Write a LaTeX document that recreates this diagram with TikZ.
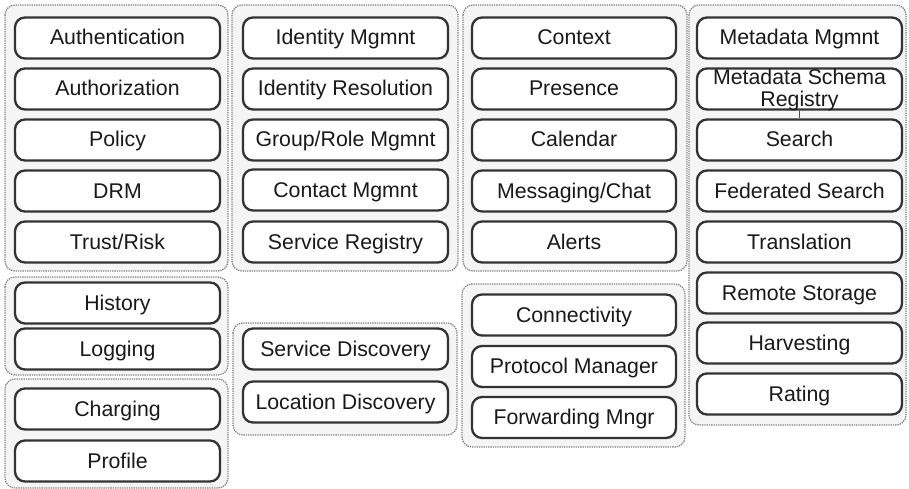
\documentclass[tikz,border=0pt]{standalone}
\usepackage{fontspec}
\setmainfont{Liberation Sans}
\begin{document}
\begin{tikzpicture}[x=1pt,y=-1pt,
  group/.style={draw=black!50, densely dotted, line width=1.3pt, fill=black!4, rounded corners=10pt},
  svc/.style={draw=black!80, line width=2.3pt, fill=white, rounded corners=10pt,
    minimum width=205pt, minimum height=41pt, inner sep=0pt,
    text height=16pt, text depth=2pt,
    text=black!90, font=\fontsize{21.3}{22}\selectfont},
  lbl/.style={text=black!90, font=\fontsize{21.3}{22}\selectfont, align=center, inner sep=0pt},
  tick/.style={draw=black!70, line width=1pt}]
\useasboundingbox (0,0) rectangle (909,489);

% groups
\draw[group] (5,5) rectangle (228,271);
\draw[group] (232,5) rectangle (458,271);
\draw[group] (463,5) rectangle (687,271);
\draw[group] (689,5) rectangle (906,425);
\draw[group] (5,277) rectangle (228,375);
\draw[group] (5,379) rectangle (228,488);
\draw[group] (233,323) rectangle (457,435);
\draw[group] (462,284) rectangle (685,447);

% column 1
\node[svc] (authn) at (117.5,38) {Authentication};
\node[svc] (authz) at (117.5,89) {Authorization};
\node[svc] (policy) at (117.5,140) {Policy};
\node[svc] (drm) at (117.5,191) {DRM};
\node[svc] (trust) at (117.5,242) {Trust/Risk};
\node[svc] (history) at (117.5,303) {History};
\node[svc] (logging) at (117.5,349) {Logging};
\node[svc] (charging) at (117.5,409) {Charging};
\node[svc] (profile) at (117.5,461) {Profile};

% column 2
\node[svc] (idm) at (345.5,38) {Identity Mgmnt};
\node[svc] (idres) at (345.5,89) {Identity Resolution};
\node[svc] (group) at (345.5,140) {Group/Role Mgmnt};
\node[svc] (contact) at (345.5,190) {Contact Mgmnt};
\node[svc] (sreg) at (345.5,242) {Service Registry};
\node[svc] (sdisc) at (345.5,349) {Service Discovery};
\node[svc] (ldisc) at (345.5,402) {Location Discovery};

% column 3
\node[svc, minimum width=204pt] (context) at (574,38) {Context};
\node[svc, minimum width=204pt] (presence) at (574,89) {Presence};
\node[svc, minimum width=204pt] (calendar) at (574,140) {Calendar};
\node[svc, minimum width=204pt] (msg) at (574,191) {Messaging/Chat};
\node[svc, minimum width=204pt] (alerts) at (574,242) {Alerts};
\node[svc, minimum width=204pt] (conn) at (574,315) {Connectivity};
\node[svc, minimum width=204pt] (proto) at (574,366.5) {Protocol Manager};
\node[svc, minimum width=204pt] (fwd) at (574,417.5) {Forwarding Mngr};

% column 4
\node[svc] (mdm) at (799.5,38) {Metadata Mgmnt};
\node[svc] (mdreg) at (799.5,89) {};
\node[lbl] (mdregtext) at (799.5,90) {Metadata Schema\\Registry};
\node[svc] (search) at (799.5,140) {Search};
\node[svc] (fsearch) at (799.5,191) {Federated Search};
\node[svc] (transl) at (799.5,242) {Translation};
\node[svc] (remote) at (799.5,293) {Remote Storage};
\node[svc] (harvest) at (799.5,343) {Harvesting};
\node[svc] (rating) at (799.5,394) {Rating};

\draw[tick] (mdreg.south) -- (search.north);
\end{tikzpicture}
\end{document}
